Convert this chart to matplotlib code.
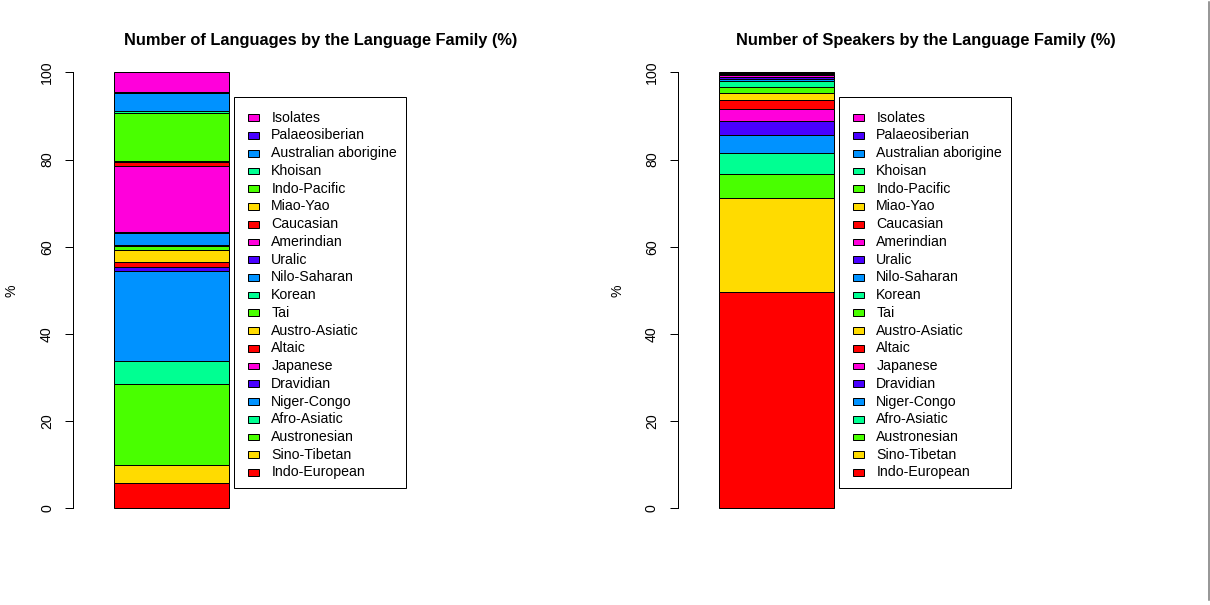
import numpy as np
import matplotlib
matplotlib.use('Agg')
import matplotlib.pyplot as plt
from matplotlib.patches import Rectangle
from matplotlib.lines import Line2D

plt.rcParams['font.family'] = ['Liberation Sans', 'DejaVu Sans']

# ── Data (bottom of the stack first) ────────────────────────────────
families = ['Indo-European', 'Sino-Tibetan', 'Austronesian', 'Afro-Asiatic',
            'Niger-Congo', 'Dravidian', 'Japanese', 'Altaic', 'Austro-Asiatic',
            'Tai', 'Korean', 'Nilo-Saharan', 'Uralic', 'Amerindian',
            'Caucasian', 'Miao-Yao', 'Indo-Pacific', 'Khoisan',
            'Australian aborigine', 'Palaeosiberian', 'Isolates']

languages_pct = [5.75, 4.15, 18.6, 5.3, 20.6, 0.9, 0.15, 1.15, 2.75,
                 0.9, 0.05, 2.75, 0.45, 15.05, 0.8, 0.3, 11.0, 0.6,
                 3.95, 0.25, 4.55]

speakers_pct = [49.7, 21.6, 5.5, 4.75, 4.15, 3.2, 2.6, 2.2, 1.6,
                1.4, 1.4, 0.4, 0.4, 0.4, 0.15, 0.15, 0.1, 0.05,
                0.02, 0.01, 0.22]

# R rainbow(7), recycled over the families
palette = ['#FF0000', '#FFDB00', '#49FF00', '#00FF92', '#0092FF', '#4900FF', '#FF00DB']
colors = [palette[i % len(palette)] for i in range(len(families))]

titles = ['Number of Languages by the Language Family (%)',
          'Number of Speakers by the Language Family (%)']

# ── Figure ──────────────────────────────────────────────────────────
W, H = 1210, 605
fig = plt.figure(figsize=(W / 100, H / 100), dpi=100)
px = 0.72  # one pixel in points
fs = 10.2  # legend / axis text
fs_title = 11.8

ax_bottom = 1 - 525.7 / H
ax_height = (525.7 - 55) / H


def draw_panel(left_px, values, title):
    ax = fig.add_axes([left_px / W, ax_bottom, 495 / W, ax_height])
    ax.set_xlim(-0.16, 4.16)
    ax.set_ylim(-4, 104)

    bottoms = np.concatenate([[0], np.cumsum(values)[:-1]])
    ax.bar(0.7, values, width=1.0, bottom=bottoms, color=colors,
           edgecolor='black', linewidth=px)

    for s in ['top', 'right', 'bottom']:
        ax.spines[s].set_visible(False)
    ax.spines['left'].set_bounds(0, 100)
    ax.spines['left'].set_linewidth(px)
    ax.set_xticks([])
    ax.set_yticks([0, 20, 40, 60, 80, 100])
    ax.tick_params(axis='y', direction='out', length=8 * px, width=px,
                   pad=11 * px, labelsize=fs, labelrotation=90)
    for lab in ax.get_yticklabels():
        lab.set_va('center')

    ax.text(0.5, 1.030, title, transform=ax.transAxes, ha='center', va='center',
            fontsize=fs_title, fontweight='bold')
    ax.text((12 - 73) / 495, 0.5, '%', transform=ax.transAxes, rotation=90,
            ha='center', va='center', fontsize=fs)

    # legend box (top entry = last family)
    ax.add_patch(Rectangle((1.245, 4.7), 2.746 - 1.245, 94.3 - 4.7, fill=False,
                           edgecolor='black', linewidth=px, clip_on=False))
    step = 17.7 / 4.35
    for k, i in enumerate(range(len(families) - 1, -1, -1)):
        yc = 89.6 - k * step
        ax.add_patch(Rectangle((1.363, yc - 0.77), 0.096, 1.54,
                               facecolor=colors[i], edgecolor='black',
                               linewidth=px, clip_on=False))
        ax.text(1.571, yc, families[i], ha='left', va='center',
                fontsize=fs, clip_on=False)
    return ax


draw_panel(73, languages_pct, titles[0])
draw_panel(678, speakers_pct, titles[1])

# thin grey frame line at the right edge
fig.add_artist(Line2D([1208.5 / W, 1208.5 / W], [1 - 600 / H, 1 - 2 / H],
                      color='#777777', linewidth=1.5 * px))

fig.savefig('out.png', dpi=100)
